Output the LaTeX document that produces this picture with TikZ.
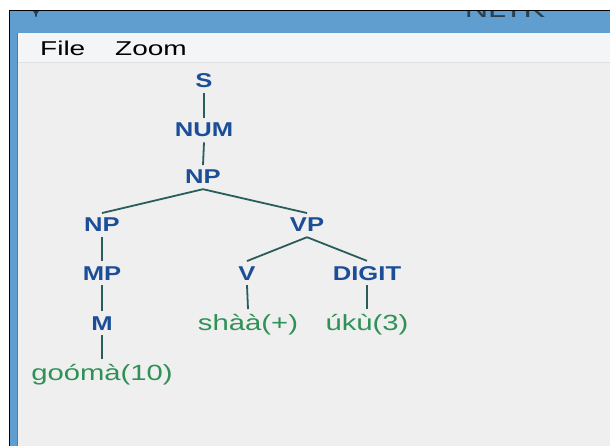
\documentclass[tikz,border=0pt]{standalone}
\usepackage{fontspec}
\setmainfont{Liberation Sans}

\definecolor{winblue}{HTML}{5F9ECF}
\definecolor{menubg}{HTML}{F4F5F7}
\definecolor{canvasbg}{HTML}{EFEFEF}
\definecolor{titlegray}{HTML}{2B3F4F}
\definecolor{nodeblue}{HTML}{1C4E98}
\definecolor{leafgreen}{HTML}{2F9157}
\definecolor{branch}{HTML}{2A5C5C}

\newcommand\wtag[1]{\scalebox{1.28}[1]{#1}}
\newcommand\wleaf[1]{\scalebox{1.33}[1]{#1}}
\newcommand\wmenu[1]{\scalebox{1.4}[1]{#1}}

\tikzset{
  tag/.style={anchor=base,text=nodeblue,inner sep=5pt,
    font=\fontsize{20}{20}\selectfont\bfseries},
  leaf/.style={anchor=base,text=leafgreen,inner sep=4.5pt,
    font=\fontsize{22}{22}\selectfont},
  menu/.style={anchor=base west,inner sep=0pt,
    font=\fontsize{20}{20}\selectfont},
}

\begin{document}
\begin{tikzpicture}[x=1pt,y=-1pt]
  \useasboundingbox (0,0) rectangle (610,446);

  % window
  \fill[white] (0,0) rectangle (610,446);
  \fill[winblue] (10,10) rectangle (610,446);
  \node[anchor=base,inner sep=0pt,text=titlegray,font=\fontsize{24}{24}\selectfont]
    (title) at (505,18) {\scalebox{1.35}[1]{NLTK}};
  \fill[white] (0,0) rectangle (610,9.6);
  \fill[titlegray] (33,11) -- (39,11) -- (37,14) -- (36.6,17) -- (35.4,17) -- (35,14) -- cycle;
  \fill[menubg] (18,33) rectangle (610,62);
  \fill[canvasbg] (18,63) rectangle (610,446);
  \draw[black!12] (18,62.5) -- (610,62.5);
  \draw[black!20!winblue] (17.5,33) -- (17.5,446);
  \draw[black,line width=1.5pt] (9.5,446) -- (9.5,10.5) -- (610,10.5);

  \node[menu] (file) at (40,56) {\wmenu{File}};
  \node[menu] (zoom) at (115,56) {\wmenu{Zoom}};

  % tree
  \begin{scope}[every node/.style={tag}]
    \node (S)     at (204,88)  {\wtag{S}};
    \node (NUM)   at (204,137) {\wtag{NUM}};
    \node (NP)    at (203,184) {\wtag{NP}};
    \node (NPl)   at (102,232) {\wtag{NP}};
    \node (VP)    at (307,232) {\wtag{VP}};
    \node (MP)    at (102,280) {\wtag{MP}};
    \node (V)     at (247,280) {\wtag{V}};
    \node (DIGIT) at (367,280) {\wtag{DIGIT}};
    \node (M)     at (102,330) {\wtag{M}};
  \end{scope}

  \begin{scope}[every node/.style={leaf}]
    \node (shaa)  at (248,330) {\wleaf{shàà(+)}};
    \node (uku)   at (367,330) {\wleaf{úkù(3)}};
    \node (gooma) at (102,380) {\wleaf{goómà(10)}};
  \end{scope}

  \begin{scope}[every edge/.style={draw=branch,line width=1.8pt}]
    \path (S.south)     edge (NUM.north);
    \path (NUM.south)   edge (NP.north);
    \path (NP.south)    edge (NPl.north);
    \path (NP.south)    edge (VP.north);
    \path (NPl.south)   edge (MP.north);
    \path (MP.south)    edge (M.north);
    \path (M.south)     edge (gooma.north);
    \path (VP.south)    edge (V.north);
    \path (VP.south)    edge (DIGIT.north);
    \path (V.south)     edge (shaa.north);
    \path (DIGIT.south) edge (uku.north);
  \end{scope}

\end{tikzpicture}
\end{document}
